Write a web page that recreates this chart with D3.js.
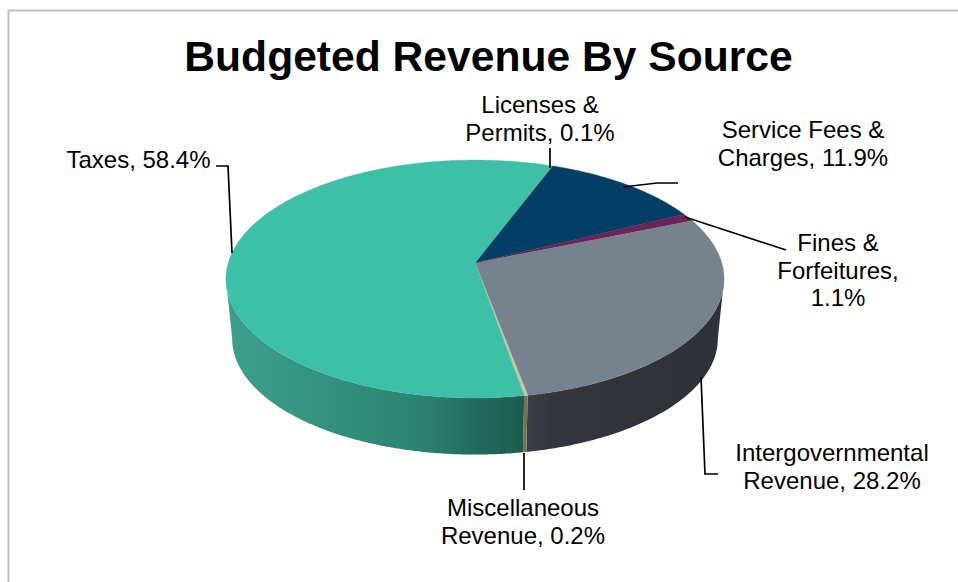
<!DOCTYPE html>
<html>
<head>
<meta charset="utf-8">
<script src="https://cdn.jsdelivr.net/npm/d3@7"></script>
<style>
  html, body { margin: 0; padding: 0; background: #fff; }
  svg { display: block; font-family: "Liberation Sans", Arial, sans-serif; }
</style>
</head>
<body>
<svg width="958" height="582"></svg>
<script>
var categories = ["Licenses & Permits", "Service Fees & Charges", "Fines & Forfeitures", "Intergovernmental Revenue", "Miscellaneous Revenue", "Taxes"];
var values = [0.1, 11.9, 1.1, 28.2, 0.2, 58.4];
var colors = ["#8a9a5b", "#023f66", "#6b2458", "#76838f", "#c9c6a0", "#3dbfa8"];
var wallColors = ["#4a5230", "#01263d", "#401536", "#31353b", "#77705a", "#2f8a78"];

// label text + where it sits, leader line is drawn beneath
var labelLines = [
  ["Licenses &", "Permits, 0.1%"],
  ["Service Fees &", "Charges, 11.9%"],
  ["Fines &", "Forfeitures,", "1.1%"],
  ["Intergovernmental", "Revenue, 28.2%"],
  ["Miscellaneous", "Revenue, 0.2%"],
  ["Taxes, 58.4%"]
];
var labelX = [540, 803, 838, 832, 523, 138.5];
var labelY = [113, 138, 251, 461, 516, 168];
var leaders = [
  [[550, 168], [550, 148]],
  [[623, 187], [657, 183], [678, 183]],
  [[685, 217], [786, 250]],
  [[701, 377], [705, 474], [718, 474]],
  [[524, 453], [524, 490]],
  [[232, 253], [228, 166], [216, 166]]
];

var svg = d3.select("svg");

svg.append("path")
  .attr("d", "M8.5,582V10.5H958")
  .attr("fill", "none")
  .attr("stroke", "#bfbfbf")
  .attr("stroke-width", 2);

svg.append("text")
  .attr("x", 488.5)
  .attr("y", 71)
  .attr("text-anchor", "middle")
  .attr("font-size", 42.6)
  .attr("font-weight", "bold")
  .attr("fill", "#000")
  .text("Budgeted Revenue By Source");

// tilted disc: the apex sits above the ellipse centre, so project with a bit of perspective
var startDeg = 20.5;
var pie = d3.pie().sort(null)
  .startAngle(startDeg * Math.PI / 180)
  .endAngle((startDeg + 360) * Math.PI / 180);
var arcs = pie(values);

var apex = { x: 475, y: 263 };
var k = 0.1345, a = 116.8, b = 246.8;

function project(theta, r, scale, dy) {
  var u = r * Math.sin(theta), v = -r * Math.cos(theta), w = 1 - k * v;
  return [apex.x + scale * b * u / w, apex.y + dy + scale * a * v / w];
}
function samples(t0, t1) {
  var n = Math.max(2, Math.ceil((t1 - t0) / 0.01));
  return d3.range(n + 1).map(function (i) { return t0 + (t1 - t0) * i / n; });
}
var line = d3.line();

var defs = svg.append("defs");
var taxGrad = defs.append("linearGradient").attr("id", "taxWall")
  .attr("gradientUnits", "userSpaceOnUse")
  .attr("x1", 226).attr("x2", 526).attr("y1", 0).attr("y2", 0);
[[0, "#3e9e8c"], [0.35, "#33907e"], [0.65, "#2b8270"], [0.85, "#216a5b"], [1, "#1c5a4d"]].forEach(function (s) {
  taxGrad.append("stop").attr("offset", s[0]).attr("stop-color", s[1]);
});
var govGrad = defs.append("linearGradient").attr("id", "govWall")
  .attr("gradientUnits", "userSpaceOnUse")
  .attr("x1", 526).attr("x2", 724).attr("y1", 0).attr("y2", 0);
[[0, "#3b3f45"], [0.15, "#32363c"], [1, "#2e3238"]].forEach(function (s) {
  govGrad.append("stop").attr("offset", s[0]).attr("stop-color", s[1]);
});

// side wall, from tangent point to tangent point of the tilted disc
var front0 = Math.acos(-k), front1 = 2 * Math.PI - front0;
svg.append("g").selectAll("path")
  .data(arcs)
  .join("path")
  .attr("d", function (d) {
    var pts = [];
    for (var turn = 0; turn < 2; turn++) {
      var t0 = Math.max(d.startAngle, front0 + turn * 2 * Math.PI);
      var t1 = Math.min(d.endAngle, front1 + turn * 2 * Math.PI);
      if (t1 <= t0) continue;
      var ts = samples(t0, t1);
      pts = ts.map(function (t) { return project(t, 1, 1, 0); })
        .concat(ts.slice().reverse().map(function (t) { return project(t, 1, 0.975, 60); }));
    }
    return pts.length ? line(pts) + "Z" : null;
  })
  .attr("fill", function (d, i) {
    if (categories[i] === "Taxes") return "url(#taxWall)";
    if (categories[i] === "Intergovernmental Revenue") return "url(#govWall)";
    return wallColors[i];
  });

// top face
svg.append("g").selectAll("path")
  .data(arcs)
  .join("path")
  .attr("d", function (d) {
    var pts = samples(d.startAngle, d.endAngle).map(function (t) { return project(t, 1, 1, 0); });
    return line([[apex.x, apex.y]].concat(pts)) + "Z";
  })
  .attr("fill", function (d, i) { return colors[i]; })
  .attr("stroke", function (d, i) { return colors[i]; })
  .attr("stroke-width", 0.4);

svg.append("g").selectAll("path")
  .data(leaders)
  .join("path")
  .attr("d", function (d) { return line(d); })
  .attr("fill", "none")
  .attr("stroke", "#000")
  .attr("stroke-width", 1.7);

svg.append("g").selectAll("text")
  .data(labelLines)
  .join("text")
  .attr("text-anchor", "middle")
  .attr("font-size", 24)
  .attr("fill", "#000")
  .attr("y", function (d, i) { return labelY[i]; })
  .selectAll("tspan")
  .data(function (d, i) { return d.map(function (s) { return { s: s, x: labelX[i] }; }); })
  .join("tspan")
  .attr("x", function (d) { return d.x; })
  .attr("dy", function (d, i) { return i ? 27.7 : 0; })
  .text(function (d) { return d.s; });
</script>
</body>
</html>
